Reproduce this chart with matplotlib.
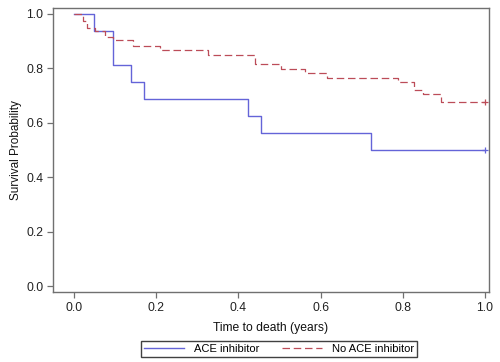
import matplotlib
matplotlib.use("Agg")
import matplotlib.pyplot as plt

# Kaplan-Meier step data (time in years, survival)
ace_t = [0.0, 0.049, 0.094, 0.138, 0.170, 0.424, 0.454, 0.722, 1.0]
ace_s = [1.0, 0.9375, 0.8125, 0.75, 0.6875, 0.625, 0.5625, 0.50, 0.50]

noace_t = [0.0, 0.023, 0.031, 0.050, 0.075, 0.096, 0.144, 0.209, 0.327,
           0.440, 0.505, 0.562, 0.615, 0.789, 0.828, 0.850, 0.894, 1.0]
noace_s = [1.0, 0.974, 0.947, 0.936, 0.917, 0.904, 0.883, 0.867, 0.849,
           0.815, 0.798, 0.783, 0.764, 0.749, 0.721, 0.706, 0.678, 0.678]

xticks = [0.0, 0.2, 0.4, 0.6, 0.8, 1.0]
yticks = [0.0, 0.2, 0.4, 0.6, 0.8, 1.0]

BLUE = "#6464d8"
RED = "#bc4c58"
FRAME = "#707070"

plt.rcParams["font.family"] = ["Liberation Sans", "DejaVu Sans"]

fig = plt.figure(figsize=(5.0, 3.62), dpi=100)
ax = fig.add_axes([0.106, 0.193, 0.872, 0.785])

ax.step(ace_t, ace_s, where="post", color=BLUE, lw=1.0, label="ACE inhibitor")
ax.step(noace_t, noace_s, where="post", color=RED, lw=0.9, dashes=(6, 3),
        label="No ACE inhibitor")
# censor marks at end of follow-up
ax.plot(ace_t[-1], ace_s[-1], marker="+", color=BLUE, ms=5, mew=0.9)
ax.plot(noace_t[-1], noace_s[-1], marker="+", color=RED, ms=5, mew=0.9)

ax.set_xlim(-0.051, 1.01)
ax.set_ylim(-0.022, 1.022)
ax.set_xticks(xticks)
ax.set_yticks(yticks)
ax.set_xticklabels([f"{v:.1f}" for v in xticks])
ax.set_yticklabels([f"{v:.1f}" for v in yticks])
ax.tick_params(labelsize=8.7, length=4, width=0.9, color=FRAME,
               labelcolor="#222222", pad=3)
for s in ax.spines.values():
    s.set_color(FRAME)
    s.set_linewidth(1.0)

ax.set_xlabel("Time to death (years)", fontsize=8.7, color="#111111", labelpad=6)
ax.set_ylabel("Survival Probability", fontsize=8.5, color="#111111", labelpad=3)

leg = fig.legend(loc="center", bbox_to_anchor=(0.558, 0.036), ncol=2,
                 fontsize=8, frameon=True, fancybox=False, handlelength=3.6,
                 handletextpad=0.9, columnspacing=2.0, borderpad=0.25,
                 borderaxespad=0)
leg.get_frame().set_edgecolor("#111111")
leg.get_frame().set_linewidth(1.0)

fig.savefig("out.png", dpi=100)
